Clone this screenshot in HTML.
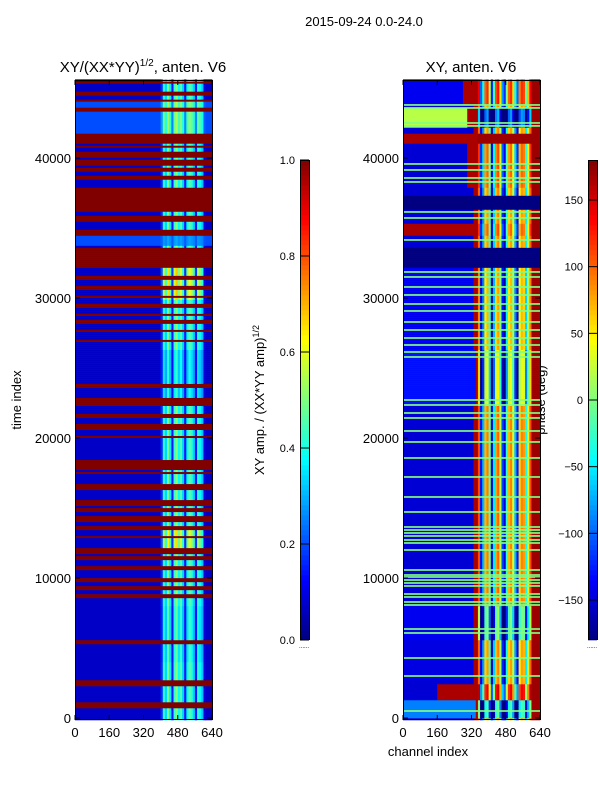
<!DOCTYPE html>
<html><head><meta charset="utf-8"><style>
body{margin:0;background:#fff;}
svg{display:block;font-family:"Liberation Sans","DejaVu Sans",sans-serif;}
</style></head><body>
<svg id="fig" width="600" height="800" viewBox="0 0 600 800" xmlns="http://www.w3.org/2000/svg">
<rect x="0" y="0" width="600" height="800" fill="#fff"/>
<text x="364" y="26" font-size="13" text-anchor="middle">2015-09-24 0.0-24.0</text>
<text x="143" y="72" font-size="15" text-anchor="middle">XY/(XX*YY)<tspan font-size="10" dy="-6">1/2</tspan><tspan dy="6">, anten. V6</tspan></text>
<text x="471" y="72" font-size="15" text-anchor="middle">XY, anten. V6</text>
<text transform="translate(21,400) rotate(-90)" font-size="13" text-anchor="middle">time index</text>
<text x="428" y="756" font-size="13" text-anchor="middle">channel index</text>
<text transform="translate(264,400) rotate(-90)" font-size="13" text-anchor="middle">XY amp. / (XX*YY amp)<tspan font-size="9" dy="-5">1/2</tspan></text>
<text transform="translate(545,400) rotate(-90)" font-size="13" text-anchor="middle">phase (deg)</text>
<g id="left-heat"></g>
<g id="right-heat"></g>
<g id="axes"></g>
</svg>
<script>
// ---- data ----
const timeTicks = [0, 10000, 20000, 30000, 40000];
const chanTicks = [0, 160, 320, 480, 640];
const ampTicks = [0.0, 0.2, 0.4, 0.6, 0.8, 1.0];
const phaseTicks = [-150, -100, -50, 0, 50, 100, 150];
// left panel: flagged (amp = 1) time ranges
const flagStart = [45360,44570,44072,43429,41072,40787,40072,39501,39144,38572,37358,36286,35501,34501,32215,31358,30644,30001,29358,28715,28215,27572,26858,23643,22358,21500,20572,20000,17715,17429,16357,15143,14715,14000,13500,12857,11786,11286,10572,9714,9214,8643,5286,2357,786];
const flagEnd   = [45500,44720,44215,43572,41787,40929,40358,39858,39287,38715,37858,37215,35786,34858,33572,31501,30786,30143,29572,28858,28358,27715,27001,23786,22858,21643,20929,20143,18429,17572,16643,15572,15000,14357,13643,13000,12143,11500,10786,9929,9357,8857,5572,2714,1143];
// left panel: activity bands (amplitude levels)
const levStart = [41790, 33790, 29860, 22715, 12000, 8000, 4000];
const levEnd   = [44140, 34500, 32140, 26290, 13500, 11000, 8000];
const levBase  = [0.2, 0.2, 0.07, 0.07, 0.07, 0.07, 0.07];
const levPeak  = [0.5, 0.28, 0.6, 0.38, 0.58, 0.45, 0.42];
// left channel profile (10-channel bins, 0..1 weight of active level)
const ampProfile = [0,0,0,0,0,0,0,0,0,0,0,0,0,0,0,0,0,0,0,0,0,0,0,0,0,0,0,0,0,0,0,0,0,0,0,0,0,0,0,0,
  0.25,0.9,0.7,1.1,0.75,0.2,0.95,1.15,0.8,1,0.7,0.2,0.8,1.05,0.9,0.7,0.2,0.9,0.8,0.65,0.05,0,0,0];
// right panel: phase bands
const rStart   = [43790,42140,41070,37860,36290,34500,32140,26290,22360,8070,5570,2700,1290,0];
const rEnd     = [45570,43570,41790,41000,37360,35360,33640,32140,26290,22360,8070,5570,2360,1290];
const rLeft    = [-140, 20, 170, -150, -180, 120, -180, -140, -130, -150, -140, -145, -150, -90];
const rMid     = [80, -120, 170, 60, -180, 60, -180, 30, 0, 50, -40, 40, 100, -60];
const rEdge    = [170, 170, 170, 170, -180, 170, -180, 170, 170, 170, 170, 170, 170, 170];
const rRedFrom = [280, 300, 0, 300, 700, 0, 700, 330, 340, 330, 330, 330, 160, 340];
const midTex = [60,-180,-120,20,40,-60,-200,-100,30,50,-30,-160,-200,-80,20,40,-20,-120,-180,10,40,30,-90,-10,60];
// right panel: thin lines with phase ~0
const greenLines = [43787,43572,42501,42287,39572,39144,38572,38286,36144,35715,34144,31858,31501,30786,30215,29572,29072,28286,27715,27143,26643,26143,25786,22715,22358,21786,21429,20500,19715,18572,17215,15786,14715,13643,13429,13215,13000,12715,12500,12000,10572,10214,10072,9857,9643,9429,8857,8643,8286,8072,6357,6072,4286,3000,500];

// ---- scales ----
const T0 = -143, T1 = 45570, Y0 = 720, Y1 = 80;
function yS(t){ return Y0 - (t - T0) / (T1 - T0) * (Y0 - Y1); }
function xL(c){ return 75 + c / 640 * 137; }
function xR(c){ return 403 + c / 640 * 137; }
function jet(v){
  v = Math.max(0, Math.min(1, v));
  const cl = x => Math.round(255 * Math.max(0, Math.min(1, x)));
  return 'rgb(' + cl(1.5 - Math.abs(4*v - 3)) + ',' + cl(1.5 - Math.abs(4*v - 2)) + ',' + cl(1.5 - Math.abs(4*v - 1)) + ')';
}
function ph(p){ return (Math.max(-180, Math.min(180, p)) + 180) / 360; }
const NS = 'http://www.w3.org/2000/svg';
function rect(g, x, y, w, h, fill){
  const r = document.createElementNS(NS, 'rect');
  r.setAttribute('x', x.toFixed(2)); r.setAttribute('y', y.toFixed(2));
  r.setAttribute('width', w.toFixed(2)); r.setAttribute('height', h.toFixed(2));
  r.setAttribute('fill', fill);
  g.appendChild(r);
  return r;
}
const ROW = 143, NB = 64, BW = 10;

// ---- left heatmap ----
const gL = document.getElementById('left-heat');
for (let t = T0; t < T1; t += ROW) {
  const tc = t + ROW / 2;
  let base = 0.07, peak = 0.45;
  for (let i = 0; i < levStart.length; i++) if (tc >= levStart[i] && tc < levEnd[i]) { base = levBase[i]; peak = levPeak[i]; }
  let flag = false;
  for (let i = 0; i < flagStart.length; i++) if (tc >= flagStart[i] - 40 && tc < flagEnd[i] + 40) flag = true;
  const y0 = yS(t + ROW), h = yS(t) - y0 + 0.3;
  let runStart = 0, runCol = null;
  for (let b = 0; b <= NB; b++) {
    let col = null;
    if (b < NB) {
      const v = flag ? 1 : base + (peak - base) * ampProfile[b];
      col = jet(v);
    }
    if (col !== runCol) {
      if (runCol !== null) {
        const r = rect(gL, xL(runStart * BW), y0, xL(b * BW) - xL(runStart * BW) + 0.3, h, runCol);
        
        
      }
      runStart = b; runCol = col;
    }
  }
}

// ---- right heatmap ----
const gR = document.getElementById('right-heat');
for (let t = T0; t < T1; t += ROW) {
  const tc = t + ROW / 2;
  let left = -150, mid = 40, edge = 170, redFrom = 330;
  for (let i = 0; i < rStart.length; i++) if (tc >= rStart[i] && tc < rEnd[i]) { left = rLeft[i]; mid = rMid[i]; edge = rEdge[i]; redFrom = rRedFrom[i]; }
  const y0 = yS(t + ROW), h = yS(t) - y0 + 0.3;
  let runStart = 0, runCol = null;
  for (let b = 0; b <= NB; b++) {
    let col = null;
    if (b < NB) {
      const ch = b * BW;
      let p;
      if (ch >= 600) p = edge;
      else if (ch >= 350) p = (mid === -180 || mid === 170) ? mid : mid + midTex[Math.floor((ch - 350) / 10)];
      else if (ch >= redFrom) p = (left === -180) ? -180 : 165;
      else p = left;
      col = jet(ph(p));
    }
    if (col !== runCol) {
      if (runCol !== null) {
        const r = rect(gR, xR(runStart * BW), y0, xR(b * BW) - xR(runStart * BW) + 0.3, h, runCol);
        
        
      }
      runStart = b; runCol = col;
    }
  }
}
for (let i = 0; i < greenLines.length; i++) {
  const r = rect(gR, 403, yS(greenLines[i] + 60), 137, Math.max(1.3, yS(greenLines[i] - 60) - yS(greenLines[i] + 60)), jet(ph(0)));
  
  
}

// ---- axes ----
const gA = document.getElementById('axes');
function line(x1, y1, x2, y2, name){
  const l = document.createElementNS(NS, 'line');
  l.setAttribute('x1', x1); l.setAttribute('y1', y1); l.setAttribute('x2', x2); l.setAttribute('y2', y2);
  l.setAttribute('stroke', '#000'); l.setAttribute('stroke-width', '1');
  
  
  gA.appendChild(l);
}
function text(x, y, s, anchor, size, name){
  const t = document.createElementNS(NS, 'text');
  t.setAttribute('x', x); t.setAttribute('y', y); t.setAttribute('text-anchor', anchor);
  t.setAttribute('font-size', size); t.textContent = s;
  
  
  gA.appendChild(t);
}
[[75, xL], [403, xR]].forEach(([x0, xs], k) => {
  const fr = document.createElementNS(NS, 'rect');
  fr.setAttribute('x', x0 + 0.5); fr.setAttribute('y', 80.5); fr.setAttribute('width', 137); fr.setAttribute('height', 639);
  fr.setAttribute('fill', 'none'); fr.setAttribute('stroke', '#000');
  
  
  gA.appendChild(fr);
  timeTicks.forEach(tv => {
    const y = yS(tv);
    line(x0, y, x0 + 5, y, 'y-tick'); line(x0 + 137, y, x0 + 132, y, 'y-tick');
    text(x0 - 4, y + 5, String(tv), 'end', 13, 'y-tick-label');
  });
  chanTicks.forEach(cv => {
    const x = xs(cv);
    line(x, 720, x, 715, 'x-tick'); line(x, 80, x, 85, 'x-tick');
    text(x, 737, String(cv), 'middle', 13, 'x-tick-label');
  });
});
// colorbars
function cbar(x, labelFn, ticks, tickY, name){
  const g = document.createElementNS(NS, 'g');
  
  
  gA.appendChild(g);
  for (let i = 0; i < 96; i++) {
    const r = rect(g, x, 640 - (i + 1) * 5, 9, 5.3, jet((i + 0.5) / 96));
    
    
  }
  const fr = document.createElementNS(NS, 'rect');
  fr.setAttribute('x', x + 0.5); fr.setAttribute('y', 160.5); fr.setAttribute('width', 9); fr.setAttribute('height', 479);
  fr.setAttribute('fill', 'none'); fr.setAttribute('stroke', '#000');
  
  
  g.appendChild(fr);
  ticks.forEach(tv => {
    const y = tickY(tv);
    line(x, y, x + 9, y, 'colorbar-tick');
    text(x - 5, y + 4, labelFn(tv), 'end', 11, 'colorbar-tick-label');
  });
  text(x + 4, 648, '......', 'middle', 6, 'colorbar-extend');
}
cbar(300, v => v.toFixed(1), ampTicks, v => 640 - v * 480, 'amp-colorbar');
cbar(588, v => String(v).replace('-', '\u2212'), phaseTicks, v => 400 - v * 480 / 360, 'phase-colorbar');
</script>
</body></html>
